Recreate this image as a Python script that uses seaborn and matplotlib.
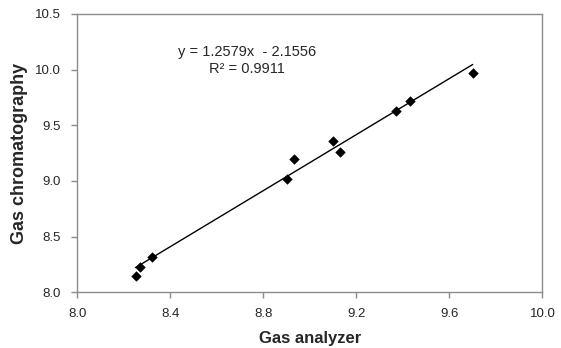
import numpy as np
import pandas as pd
import seaborn as sns
import matplotlib.pyplot as plt

# Valores
gas_analyzer = [8.25, 8.27, 8.32, 8.90, 8.93, 9.10, 9.13, 9.37, 9.43, 9.70]
gas_chrom = [8.15, 8.23, 8.32, 9.02, 9.20, 9.355, 9.26, 9.63, 9.715, 9.97]

# coeficientes da linha de tendência (como no gráfico)
slope = 1.2579
intercept = -2.1556
r2 = 0.9911

x_ticks = [8.0, 8.4, 8.8, 9.2, 9.6, 10.0]
y_ticks = [8.0, 8.5, 9.0, 9.5, 10.0, 10.5]

df = pd.DataFrame({"x": gas_analyzer, "y": gas_chrom})
xs = np.array([min(gas_analyzer), max(gas_analyzer)])
trend = pd.DataFrame({"x": xs, "y": slope * xs + intercept})

sns.set_style("white")
plt.rcParams["font.family"] = ["Liberation Sans", "DejaVu Sans"]

fig, ax = plt.subplots(figsize=(5.61, 3.48), dpi=100)
fig.subplots_adjust(left=0.138, right=0.967, top=0.96, bottom=0.16)

sns.lineplot(data=trend, x="x", y="y", color="black", linewidth=1, ax=ax)
sns.scatterplot(data=df, x="x", y="y", marker="D", color="black", s=24,
                edgecolor="black", ax=ax, zorder=3)

ax.set_xlim(8.0, 10.0)
ax.set_ylim(8.0, 10.5)
ax.set_xticks(x_ticks)
ax.set_yticks(y_ticks)
ax.set_xticklabels([f"{v:.1f}" for v in x_ticks])
ax.set_yticklabels([f"{v:.1f}" for v in y_ticks])

for s in ax.spines.values():
    s.set_color("#8c8c8c")
    s.set_linewidth(1)
ax.tick_params(axis="both", direction="out", length=4, width=1, color="#8c8c8c",
               labelsize=9.5, bottom=True, left=True)
ax.tick_params(axis="x", pad=7)
ax.tick_params(axis="y", pad=8)

ax.set_xlabel("Gas analyzer", fontsize=12, fontweight="bold", labelpad=8)
ax.set_ylabel("Gas chromatography", fontsize=13, fontweight="bold", labelpad=5)

ax.text(8.73, 10.08, f"y = {slope}x  - {abs(intercept)}\nR² = {r2}",
        ha="center", va="center", fontsize=10.5, linespacing=1.3)

plt.savefig("out.png", dpi=100)
